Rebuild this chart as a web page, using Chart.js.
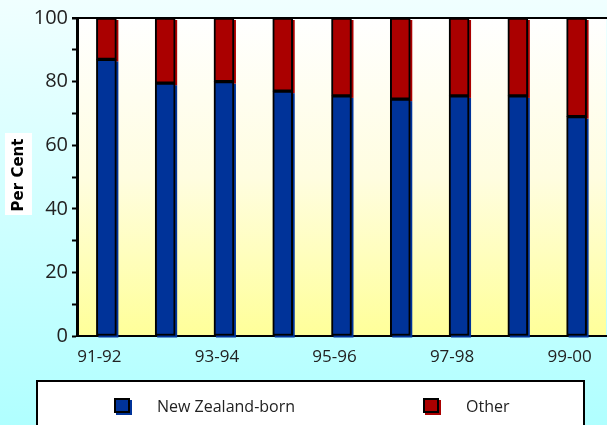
<!DOCTYPE html>
<html>
<head>
<meta charset="utf-8">
<script src="https://cdn.jsdelivr.net/npm/chart.js@4/dist/chart.umd.min.js"></script>
<style>
  html, body { margin: 0; padding: 0; background: #d8ffff; }
  #wrap { width: 607px; height: 425px; }
</style>
</head>
<body>
<div id="wrap"><canvas id="c" width="607" height="425"></canvas></div>
<script>
// Birthplace shares by school year (per cent)
const years = ['91-92', '92-93', '93-94', '94-95', '95-96', '96-97', '97-98', '98-99', '99-00'];
const nzBorn = [87, 79.5, 80, 77, 75.5, 74.5, 75.5, 75.5, 69];
const other = [13, 20.5, 20, 23, 24.5, 25.5, 24.5, 24.5, 31];
const seriesNames = ['New Zealand-born', 'Other'];
const seriesColors = ['#003399', '#aa0000'];
const axisTitle = 'Per Cent';

const FONT = "'Open Sans', 'DejaVu Sans', sans-serif";

// Page + plot backgrounds
const backdrop = {
  id: 'backdrop',
  beforeDraw(chart) {
    const { ctx, width, height, chartArea: a } = chart;
    ctx.save();
    let g = ctx.createLinearGradient(0, 0, 0, height);
    g.addColorStop(0, '#f0ffff');
    g.addColorStop(1, '#b0ffff');
    ctx.fillStyle = g;
    ctx.fillRect(0, 0, width, height);
    g = ctx.createLinearGradient(0, a.top, 0, a.bottom);
    g.addColorStop(0, '#ffffff');
    g.addColorStop(0.5, '#fffde0');
    g.addColorStop(1, '#ffff99');
    ctx.fillStyle = g;
    ctx.fillRect(a.left, a.top, a.right - a.left, a.bottom - a.top);
    ctx.restore();
  }
};

// Offset coloured shadow behind every bar
const barShadow = {
  id: 'barShadow',
  beforeDatasetsDraw(chart) {
    const { ctx } = chart;
    ctx.save();
    chart.data.datasets.forEach((ds, i) => {
      const meta = chart.getDatasetMeta(i);
      ctx.fillStyle = ds.backgroundColor;
      meta.data.forEach(el => {
        const p = el.getProps(['x', 'y', 'base', 'width'], true);
        const top = Math.min(p.y, p.base);
        const h = Math.abs(p.base - p.y);
        ctx.fillRect(p.x - p.width / 2 + 2, top + 2, p.width, h);
      });
    });
    ctx.restore();
  }
};

// Top frame line, rotated axis title on white, framed legend
const extras = {
  id: 'extras',
  afterDraw(chart) {
    const { ctx, chartArea: a } = chart;
    ctx.save();
    ctx.strokeStyle = '#000';
    ctx.lineWidth = 2;
    ctx.beginPath();
    ctx.moveTo(a.left - 5, a.top);
    ctx.lineTo(a.right + 1, a.top);
    ctx.stroke();

    // axis title
    ctx.fillStyle = '#ffffff';
    ctx.fillRect(5, 133, 27, 82);
    ctx.translate(19, 175);
    ctx.rotate(-Math.PI / 2);
    ctx.fillStyle = '#000';
    ctx.font = "bold 15px 'DejaVu Sans', sans-serif";
    ctx.textAlign = 'center';
    ctx.textBaseline = 'middle';
    ctx.fillText(axisTitle, 0, 0);
    ctx.setTransform(1, 0, 0, 1, 0, 0);

    // legend
    ctx.fillStyle = '#ffffff';
    ctx.fillRect(37, 381, 547, 60);
    ctx.strokeStyle = '#000';
    ctx.lineWidth = 2;
    ctx.strokeRect(37, 381, 547, 60);
    const boxX = [114, 423];
    const textX = [157, 466];
    chart.data.datasets.forEach((ds, i) => {
      ctx.fillStyle = ds.backgroundColor;
      ctx.fillRect(boxX[i] + 2, 400, 16, 15);
      ctx.fillRect(boxX[i], 398, 16, 15);
      ctx.lineWidth = 2;
      ctx.strokeStyle = '#000';
      ctx.strokeRect(boxX[i] + 1, 399, 14, 13);
      ctx.fillStyle = '#222';
      ctx.font = '16px ' + FONT;
      ctx.textAlign = 'left';
      ctx.textBaseline = 'middle';
      ctx.fillText(ds.label, textX[i], 407);
    });
    ctx.restore();
  }
};

new Chart(document.getElementById('c'), {
  type: 'bar',
  data: {
    labels: years,
    datasets: [
      { label: seriesNames[0], data: nzBorn, backgroundColor: seriesColors[0] },
      { label: seriesNames[1], data: other, backgroundColor: seriesColors[1] }
    ]
  },
  options: {
    responsive: false,
    animation: false,
    layout: { padding: { top: 18, right: 1, left: 0, bottom: 0 } },
    datasets: {
      bar: {
        borderColor: '#000',
        borderWidth: 2,
        borderSkipped: false,
        barThickness: 20
      }
    },
    plugins: {
      legend: { display: false },
      tooltip: { enabled: false },
      title: { display: false }
    },
    scales: {
      x: {
        stacked: true,
        afterFit(s) { s.height = 89; },
        grid: { display: false },
        border: { display: true, color: '#000', width: 2 },
        ticks: {
          autoSkip: false,
          maxRotation: 0,
          padding: 3,
          labelOffset: -7,
          color: '#222',
          font: { family: FONT, size: 17 },
          callback(v, i) { return i % 2 === 0 ? this.getLabelForValue(v) : ''; }
        }
      },
      y: {
        stacked: true,
        min: 0,
        max: 100,
        afterFit(s) { s.width = 77; },
        grid: {
          drawOnChartArea: false,
          drawTicks: true,
          tickLength: 5,
          tickColor: '#000',
          tickWidth: 2
        },
        border: { display: true, color: '#000', width: 3 },
        ticks: {
          stepSize: 10,
          padding: 4,
          color: '#222',
          font: { family: FONT, size: 20 },
          callback(v) { return v % 20 === 0 ? v : ''; }
        }
      }
    }
  },
  plugins: [backdrop, barShadow, extras]
});
</script>
</body>
</html>
